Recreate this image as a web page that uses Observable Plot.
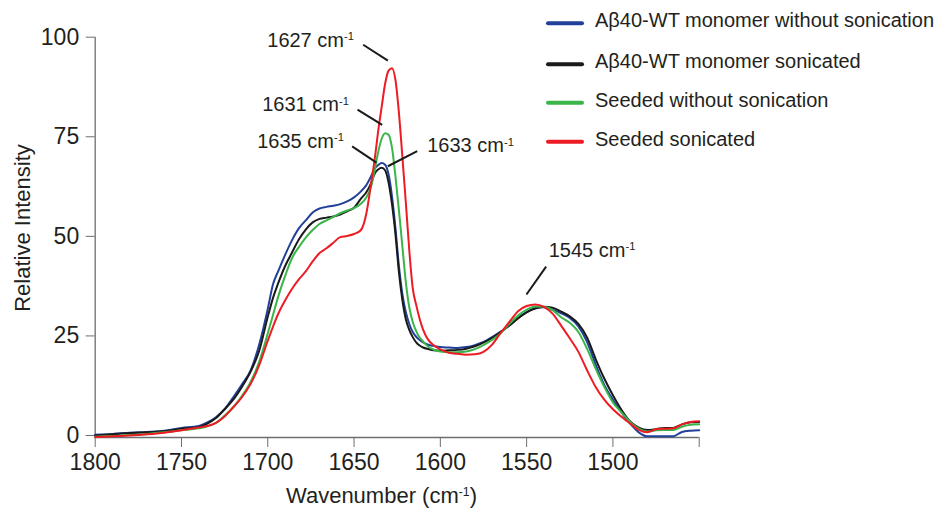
<!DOCTYPE html>
<html><head><meta charset="utf-8">
<script src="https://cdn.jsdelivr.net/npm/d3@7"></script>
<script src="https://cdn.jsdelivr.net/npm/@observablehq/plot@0.6"></script>
<style>body{margin:0;background:#fff;}</style>
</head><body><div id="chart"></div>
<script>
// ---- data ----
const wavenumbers = [1800,1790,1780,1770,1760,1750,1740,1735,1730,1725,1720,1715,1710,1705,1700,1697,1694,1690,1686,1682,1678,1674,1670,1666,1662,1658,1654,1650,1646,1643,1640,1638,1636,1634,1632,1630,1628,1626,1624,1622,1620,1618,1616,1614,1612,1610,1607,1604,1600,1595,1590,1585,1580,1575,1570,1565,1560,1555,1550,1545,1540,1535,1530,1525,1520,1515,1510,1505,1500,1495,1490,1485,1480,1475,1470,1465,1460,1455,1450];
const monomerWithout = [0.2,0.4,0.7,0.9,1.2,1.9,2.4,3.3,4.6,6.6,9.6,12.8,16.3,22.8,31.8,37.9,41.2,45.3,49.0,52.0,54.0,56.0,57.0,57.4,57.7,58.1,58.8,59.8,61.3,62.8,65.2,67.0,67.9,68.4,68.0,65.6,60.0,52.0,42.5,35.5,31.0,28.0,26.0,24.8,24.0,23.4,22.8,22.5,22.2,22.1,22.0,22.2,22.7,23.5,24.7,26.1,27.6,29.5,31.0,32.0,32.2,31.6,30.7,29.5,27.4,23.5,17.8,12.7,9.0,5.8,3.0,0.8,-0.2,-0.2,-0.2,-0.2,0.9,1.2,1.3];
const monomerSonicated = [0.0,0.3,0.6,0.8,1.1,1.7,2.1,3.0,4.4,6.6,9.0,12.2,16.0,21.2,29.8,34.5,38.2,42.5,45.9,49.2,51.7,53.5,54.4,54.7,55.0,55.5,56.3,57.2,59.5,61.0,63.5,65.8,66.8,67.2,66.6,63.5,58.0,50.5,41.0,34.0,29.2,26.5,24.7,23.4,22.6,22.1,21.7,21.4,21.3,21.4,21.5,21.8,22.4,23.3,24.5,26.0,27.6,29.4,30.9,31.9,32.3,32.1,31.1,29.9,28.0,24.6,19.2,14.3,10.1,6.4,3.5,2.0,1.4,1.6,1.9,1.9,2.8,3.3,3.4];
const seededWithout = [-0.3,-0.1,0.1,0.4,0.8,1.3,1.8,2.3,3.2,5.0,7.1,9.9,13.4,18.5,25.6,30.2,34.8,40.0,44.5,47.3,49.7,51.6,53.1,54.0,54.9,55.8,56.5,57.1,58.2,59.7,62.7,66.8,71.2,74.5,75.9,75.5,72.2,65.0,56.5,47.5,38.5,32.2,28.5,26.2,24.6,23.6,22.3,21.6,21.1,20.9,20.9,21.1,21.7,22.7,24.0,25.7,28.0,30.1,31.6,32.4,32.3,31.5,29.7,28.3,26.0,21.8,16.8,12.2,8.3,5.8,3.4,1.7,1.0,1.3,1.4,1.4,2.2,2.7,2.8];
const seededSonicated = [-0.4,-0.2,0.0,0.3,0.7,1.3,2.0,2.4,3.2,4.8,7.1,9.6,12.9,17.6,23.8,27.3,30.5,33.9,36.8,39.2,41.2,43.7,45.8,47.0,48.4,49.8,50.1,50.6,51.6,55.5,63.6,69.5,76.5,82.5,88.3,91.6,92.2,89.2,81.0,70.0,58.5,46.5,37.0,32.8,29.3,26.6,24.0,22.7,21.6,20.8,20.5,20.3,20.4,21.0,22.8,25.8,28.5,31.2,32.5,32.9,32.3,30.6,27.6,24.4,21.0,16.4,12.2,9.0,6.6,4.7,3.0,1.4,0.8,1.6,1.7,1.8,2.8,3.4,3.6];

const seriesNames = ["Aβ40-WT monomer without sonication", "Aβ40-WT monomer sonicated", "Seeded without sonication", "Seeded sonicated"];
const seriesColors = ["#21409a", "#1a1a1a", "#39b54a", "#ed1c24"];
const seriesValues = [monomerWithout, monomerSonicated, seededWithout, seededSonicated];

const xTicks = [1800, 1750, 1700, 1650, 1600, 1550, 1500, 1450];
const xTickLabels = ["1800", "1750", "1700", "1650", "1600", "1550", "1500", ""];
const yTicks = [0, 25, 50, 75, 100];

// peak annotations
const annoLabels = ["1627 cm-1", "1631 cm-1", "1635 cm-1", "1633 cm-1", "1545 cm-1"];
const annoTextWn = [1700.3, 1703.2, 1706.1, 1607.6, 1537.2];
const annoTextVal = [99.1, 83.0, 73.8, 72.7, 46.5];
const leaderWn1 = [1644.7, 1648.0, 1651.1, 1613.4, 1538.7];
const leaderVal1 = [98.1, 81.8, 72.6, 71.4, 42.4];
const leaderWn2 = [1630.4, 1633.7, 1637.0, 1630.4, 1550.1];
const leaderVal2 = [94.1, 78.0, 68.5, 67.6, 35.4];

// ---- build tables ----
const rows = [];
seriesNames.forEach((name, i) => {
  wavenumbers.forEach((wn, j) => rows.push({wn, v: seriesValues[i][j], s: name}));
});
const annos = annoLabels.map((t, i) => ({t, x: annoTextWn[i], y: annoTextVal[i],
  x1: leaderWn1[i], y1: leaderVal1[i], x2: leaderWn2[i], y2: leaderVal2[i]}));

const FONT = "'Liberation Sans', Arial, Helvetica, sans-serif";
const AXIS_COLOR = "#6d6e71";
const TEXT_COLOR = "#231f20";

const plot = Plot.plot({
  width: 940,
  height: 508,
  marginLeft: 94.7,
  marginRight: 241.3,
  marginTop: 36.7,
  marginBottom: 71,
  style: {fontFamily: FONT, fontSize: "23px", background: "#fff", color: TEXT_COLOR},
  x: {domain: [1800, 1450]},
  y: {domain: [-0.5, 100]},
  color: {domain: seriesNames, range: seriesColors},
  marks: [
    Plot.axisX({ticks: xTicks, tickFormat: (d) => xTickLabels[xTicks.indexOf(d)], tickSize: 10, tickPadding: 6,
      stroke: AXIS_COLOR, fill: TEXT_COLOR, label: null, fontSize: 23}),
    Plot.axisY({ticks: yTicks, tickSize: 9, tickPadding: 7, stroke: AXIS_COLOR, fill: TEXT_COLOR, label: null, fontSize: 23}),
    Plot.ruleX([1800], {stroke: AXIS_COLOR, strokeWidth: 1.3}),
    Plot.ruleY([-0.5], {stroke: AXIS_COLOR, strokeWidth: 1.3}),
    Plot.line(rows, {x: "wn", y: "v", z: "s", stroke: "s", strokeWidth: 2, curve: "monotone-x"}),
    Plot.link(annos, {x1: "x1", y1: "y1", x2: "x2", y2: "y2", stroke: "#1a1a1a", strokeWidth: 2}),
    Plot.text(annos, {x: "x", y: "y", text: "t", textAnchor: "start", lineAnchor: "middle", fontSize: 20, fill: TEXT_COLOR})
  ]
});

const svg = d3.select(plot);

function supify(el) {
  const t = el.textContent;
  const m = t.match(/^(.*)cm-1(.*)$/);
  if (!m) return;
  const sel = d3.select(el);
  sel.text(null);
  sel.append("tspan").text(m[1] + "cm");
  sel.append("tspan").attr("font-size", "0.56em").attr("dy", "-0.6em").text("-1");
  if (m[2]) sel.append("tspan").attr("dy", "0.34em").text(m[2]);
}
svg.selectAll("text").each(function() { supify(this); });

// axis titles
svg.append("text").attr("transform", "translate(30,228) rotate(-90)").attr("text-anchor", "middle")
  .attr("font-size", 22).attr("fill", TEXT_COLOR).attr("font-family", FONT).text("Relative Intensity");
const xl = svg.append("text").attr("x", 381.5).attr("y", 503).attr("text-anchor", "middle")
  .attr("font-size", 22).attr("fill", TEXT_COLOR).attr("font-family", FONT).text("Wavenumber (cm-1)");
supify(xl.node());

// legend
const legendLineY = [23.3, 64.3, 102.7, 141.7];
const lg = svg.append("g").attr("font-family", FONT).attr("font-size", 20).attr("fill", TEXT_COLOR)
  .attr("text-anchor", "start");
seriesNames.forEach((name, i) => {
  lg.append("line").attr("x1", 548).attr("x2", 582).attr("y1", legendLineY[i]).attr("y2", legendLineY[i])
    .attr("stroke", seriesColors[i]).attr("stroke-width", 4).attr("stroke-linecap", "round");
  lg.append("text").attr("x", 595).attr("y", legendLineY[i] + 3.8).attr("text-anchor", "start").text(name);
});

document.getElementById("chart").appendChild(plot);
</script>
</body></html>
